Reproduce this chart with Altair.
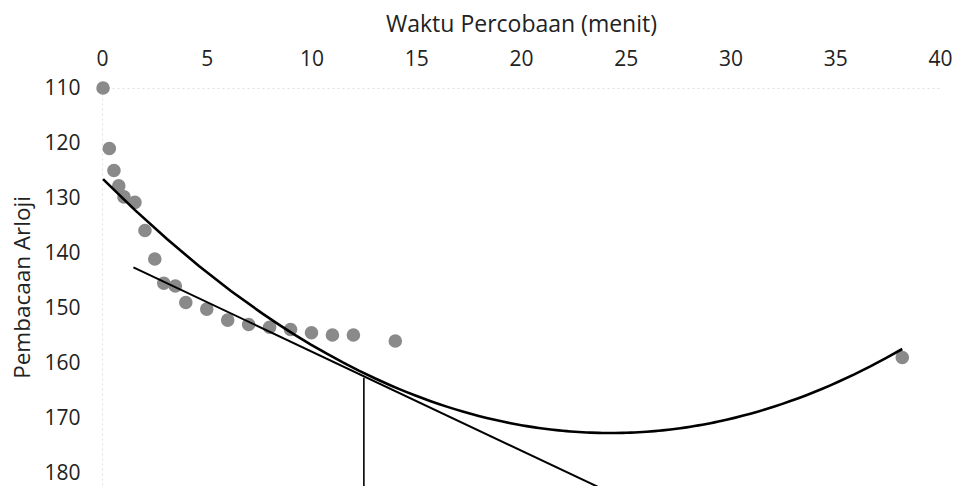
import altair as alt
import pandas as pd

# readings of the watch over time
waktu = [0.05, 0.35, 0.57, 0.8, 1.05, 1.57, 2.05, 2.52, 2.95, 3.5, 4.0,
         5.0, 6.0, 7.0, 8.0, 9.0, 10.0, 11.0, 12.0, 14.0, 38.2]
arloji = [110, 121, 125, 127.8, 129.8, 130.8, 135.9, 141.1, 145.5, 146, 149,
          150.2, 152.2, 153, 153.5, 153.9, 154.5, 154.9, 154.9, 156, 159]

# straight tangent line drawn by hand
garis_t = [1.5, 24.5]
garis_v = [142.6, 184.0]

# vertical marker at the intersection
vertikal_t = [12.5, 12.5]
vertikal_v = [162.7, 190.0]

points = pd.DataFrame({"t": waktu, "v": arloji})
tangent = pd.DataFrame({"t": garis_t, "v": garis_v})
marker = pd.DataFrame({"t": vertikal_t, "v": vertikal_v})

FONT = "Open Sans"

x_scale = alt.Scale(domain=[0, 40], nice=False, zero=False)
y_scale = alt.Scale(domain=[110, 182.36], reverse=True, nice=False, zero=False)

x_enc = alt.X(
    "t:Q",
    scale=x_scale,
    axis=alt.Axis(
        orient="top",
        title="Waktu Percobaan (menit)",
        values=[0, 5, 10, 15, 20, 25, 30, 35, 40],
        grid=False,
        ticks=False,
        labelFlush=False,
        domainColor="#e0e0e0",
        domainDash=[2, 3],
        labelPadding=19,
        titlePadding=12,
        titleFontSize=23,
    ),
)
y_enc = alt.Y(
    "v:Q",
    scale=y_scale,
    axis=alt.Axis(
        title="Pembacaan Arloji",
        values=[110, 120, 130, 140, 150, 160, 170, 180],
        grid=False,
        ticks=False,
        labelFlush=False,
        domainColor="#e0e0e0",
        domainDash=[2, 3],
        labelPadding=22,
        titlePadding=9,
        titleFontSize=22.5,
    ),
)

dots = alt.Chart(points).mark_circle(size=185, color="#8a8a8a", opacity=1).encode(
    x=x_enc, y=y_enc
)

trend = (
    alt.Chart(points)
    .transform_regression("t", "v", method="poly", order=2)
    .mark_line(color="black", strokeWidth=2.6, clip=True)
    .encode(x=x_enc, y=y_enc)
)

line = alt.Chart(tangent).mark_line(color="black", strokeWidth=2, clip=True).encode(
    x=x_enc, y=y_enc
)

rule = alt.Chart(marker).mark_line(color="black", strokeWidth=1.6, clip=True).encode(
    x=x_enc, y=y_enc
)

chart = (
    alt.layer(dots, trend, line, rule)
    .properties(
        width=838,
        height=398,
        autosize=alt.AutoSizeParams(type="none"),
        padding={"left": 94, "top": 80, "right": 13, "bottom": 8},
    )
    .configure_view(stroke=None)
    .configure_axis(
        labelFont=FONT,
        titleFont=FONT,
        labelFontSize=21,
        titleFontWeight="normal",
        labelColor="#222222",
        titleColor="#222222",
    )
)

chart.save("out.html", embed_options={"renderer": "svg", "actions": False})
